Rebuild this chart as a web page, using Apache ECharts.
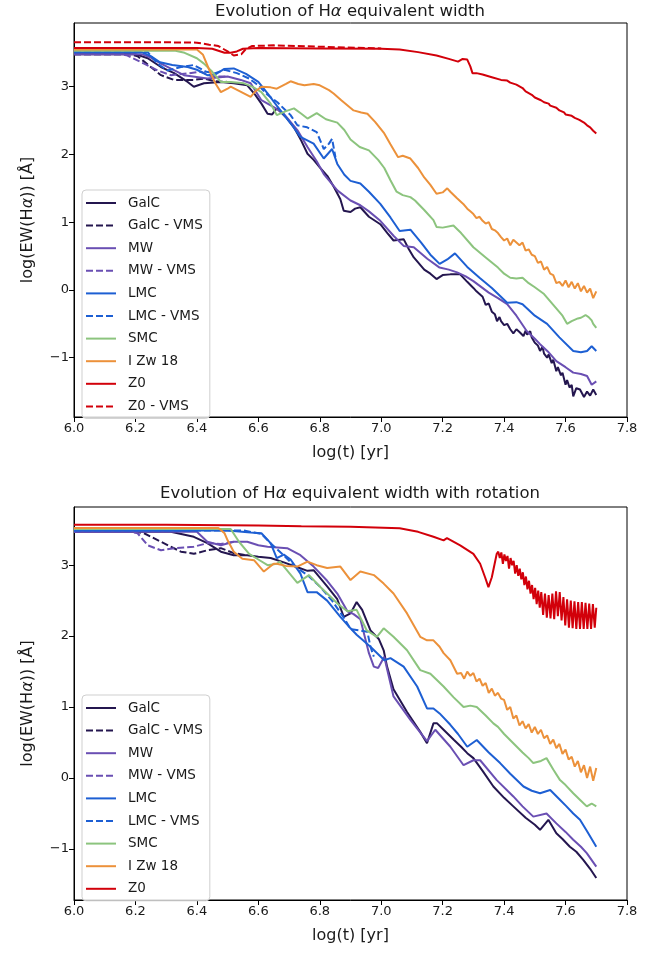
<!DOCTYPE html>
<html>
<head>
<meta charset="utf-8">
<script src="https://cdn.jsdelivr.net/npm/echarts@6/dist/echarts.min.js"></script>
<style>
html,body{margin:0;padding:0;background:#fff}
#chart{width:665px;height:954px}
</style>
</head>
<body>
<div id="chart"></div>
<script>
// Tick positions
const xTicks = [6.0, 6.2, 6.4, 6.6, 6.8, 7.0, 7.2, 7.4, 7.6, 7.8];
const yTicks = [-1, 0, 1, 2, 3];

// Legend entries
const namesTop = ['GalC', 'GalC - VMS', 'MW', 'MW - VMS', 'LMC', 'LMC - VMS', 'SMC', 'I Zw 18', 'Z0', 'Z0 - VMS'];
const namesBottom = ['GalC', 'GalC - VMS', 'MW', 'MW - VMS', 'LMC', 'LMC - VMS', 'SMC', 'I Zw 18', 'Z0'];

// ---- Non-rotating models: [log(t), log(EW)] ----
const galcTop = [[6.00,3.48],[6.20,3.48],[6.24,3.42],[6.283,3.29],[6.326,3.20],[6.37,3.07],[6.39,3.00],[6.423,3.05],[6.478,3.07],[6.52,3.05],[6.564,3.02],[6.59,2.88],[6.61,2.75],[6.63,2.60],[6.645,2.59],[6.66,2.68],[6.69,2.55],[6.716,2.40],[6.74,2.20],[6.76,2.01],[6.78,1.92],[6.80,1.81],[6.825,1.68],[6.846,1.52],[6.867,1.34],[6.878,1.17],[6.90,1.15],[6.915,1.20],[6.932,1.22],[6.96,1.08],[6.997,0.97],[7.02,0.84],[7.04,0.73],[7.073,0.75],[7.09,0.60],[7.106,0.48],[7.14,0.30],[7.16,0.24],[7.18,0.16],[7.20,0.22],[7.225,0.23],[7.257,0.23],[7.28,0.12],[7.30,0.03],[7.31,-0.02],[7.32,-0.06],[7.33,-0.10],[7.34,-0.22],[7.35,-0.20],[7.36,-0.32],[7.37,-0.36],[7.377,-0.46],[7.385,-0.40],[7.39,-0.46],[7.40,-0.52],[7.41,-0.50],[7.42,-0.58],[7.43,-0.64],[7.44,-0.58],[7.45,-0.62],[7.463,-0.68],[7.47,-0.60],[7.475,-0.66],[7.485,-0.61],[7.49,-0.70],[7.50,-0.78],[7.51,-0.82],[7.517,-0.90],[7.525,-0.84],[7.53,-0.94],[7.54,-1.00],[7.545,-0.95],[7.555,-1.08],[7.56,-1.03],[7.57,-1.20],[7.575,-1.14],[7.585,-1.26],[7.59,-1.22],[7.60,-1.40],[7.605,-1.33],[7.613,-1.44],[7.62,-1.40],[7.625,-1.57],[7.635,-1.45],[7.647,-1.47],[7.66,-1.58],[7.67,-1.50],[7.68,-1.56],[7.69,-1.47],[7.70,-1.55]];
const galcVmsTop = [[6.00,3.48],[6.18,3.48],[6.207,3.45],[6.25,3.29],[6.283,3.17],[6.326,3.10],[6.39,3.10],[6.423,3.12],[6.46,3.08],[6.50,3.07]];
const mwTop = [[6.00,3.48],[6.22,3.48],[6.25,3.43],[6.283,3.34],[6.358,3.17],[6.434,3.12],[6.50,3.15],[6.543,3.10],[6.575,3.05],[6.61,2.80],[6.65,2.70],[6.683,2.60],[6.727,2.36],[6.76,2.11],[6.79,1.90],[6.813,1.71],[6.857,1.47],[6.90,1.32],[6.932,1.25],[6.96,1.16],[6.997,1.02],[7.04,0.80],[7.073,0.65],[7.106,0.63],[7.15,0.46],[7.19,0.33],[7.22,0.30],[7.247,0.26],[7.275,0.20],[7.30,0.13],[7.35,-0.04],[7.38,-0.12],[7.41,-0.21],[7.44,-0.38],[7.474,-0.61],[7.50,-0.72],[7.517,-0.80],[7.545,-0.92],[7.57,-1.05],[7.60,-1.14],[7.625,-1.22],[7.65,-1.24],[7.67,-1.27],[7.685,-1.40],[7.70,-1.35]];
const mwVmsTop = [[6.00,3.48],[6.15,3.48],[6.174,3.46],[6.228,3.34],[6.272,3.24],[6.315,3.17],[6.37,3.195],[6.413,3.22],[6.45,3.15],[6.50,3.15]];
const lmcTop = [[6.00,3.51],[6.22,3.51],[6.25,3.45],[6.28,3.36],[6.32,3.32],[6.37,3.29],[6.40,3.25],[6.434,3.17],[6.46,3.18],[6.488,3.26],[6.52,3.27],[6.56,3.19],[6.60,3.07],[6.63,2.90],[6.66,2.72],[6.705,2.46],[6.737,2.26],[6.78,2.16],[6.813,1.94],[6.84,2.08],[6.857,1.86],[6.88,1.70],[6.90,1.61],[6.932,1.57],[6.96,1.45],[6.997,1.27],[7.03,1.07],[7.06,0.87],[7.095,0.89],[7.13,0.70],[7.16,0.52],[7.19,0.385],[7.215,0.45],[7.24,0.54],[7.28,0.34],[7.32,0.18],[7.36,0.03],[7.41,-0.19],[7.44,-0.18],[7.46,-0.21],[7.50,-0.38],[7.54,-0.50],[7.58,-0.70],[7.625,-0.90],[7.65,-0.92],[7.67,-0.90],[7.685,-0.83],[7.70,-0.90]];
const lmcVmsTop = [[6.00,3.51],[6.24,3.51],[6.272,3.34],[6.304,3.24],[6.348,3.29],[6.39,3.32],[6.43,3.22],[6.46,3.20],[6.49,3.25],[6.53,3.20],[6.57,3.12],[6.60,3.02],[6.63,2.88],[6.662,2.77],[6.705,2.58],[6.727,2.43],[6.759,2.40],[6.79,2.33],[6.813,2.08],[6.83,2.16],[6.84,2.23],[6.851,1.96]];
const smcTop = [[6.00,3.53],[6.33,3.53],[6.36,3.50],[6.40,3.42],[6.423,3.34],[6.45,3.22],[6.478,3.07],[6.51,3.07],[6.553,3.05],[6.58,3.00],[6.61,2.92],[6.64,2.75],[6.66,2.58],[6.69,2.64],[6.716,2.68],[6.74,2.60],[6.76,2.53],[6.79,2.61],[6.82,2.52],[6.857,2.47],[6.88,2.36],[6.90,2.22],[6.93,2.11],[6.96,2.06],[6.99,1.92],[7.01,1.80],[7.03,1.62],[7.05,1.45],[7.07,1.40],[7.095,1.37],[7.11,1.32],[7.14,1.18],[7.17,1.03],[7.18,0.93],[7.20,0.92],[7.235,0.95],[7.26,0.84],[7.30,0.63],[7.34,0.48],[7.38,0.33],[7.40,0.24],[7.42,0.18],[7.44,0.17],[7.46,0.18],[7.48,0.10],[7.50,0.04],[7.53,-0.06],[7.56,-0.22],[7.59,-0.38],[7.605,-0.50],[7.62,-0.46],[7.64,-0.42],[7.65,-0.41],[7.665,-0.37],[7.675,-0.40],[7.685,-0.45],[7.69,-0.50],[7.70,-0.56]];
const izwTop = [[6.00,3.55],[6.40,3.55],[6.42,3.47],[6.44,3.25],[6.46,3.05],[6.478,2.92],[6.50,2.97],[6.51,3.00],[6.545,2.92],[6.575,2.85],[6.59,2.93],[6.61,3.00],[6.64,2.99],[6.66,2.97],[6.69,3.04],[6.705,3.08],[6.73,3.04],[6.75,3.02],[6.78,3.04],[6.80,3.02],[6.83,2.95],[6.845,2.90],[6.87,2.80],[6.91,2.65],[6.935,2.62],[6.955,2.60],[6.98,2.48],[7.01,2.31],[7.03,2.15],[7.055,1.96],[7.07,1.98],[7.095,1.94],[7.12,1.80],[7.14,1.66],[7.16,1.55],[7.18,1.42],[7.20,1.44],[7.215,1.50],[7.225,1.45],[7.245,1.36],[7.267,1.27],[7.28,1.20],[7.29,1.16],[7.30,1.12],[7.31,1.06],[7.32,1.08],[7.33,1.02],[7.34,0.98],[7.35,1.00],[7.36,0.90],[7.37,0.88],[7.38,0.84],[7.39,0.78],[7.40,0.73],[7.41,0.76],[7.42,0.66],[7.43,0.74],[7.44,0.70],[7.45,0.66],[7.46,0.70],[7.47,0.58],[7.48,0.60],[7.49,0.52],[7.50,0.50],[7.51,0.40],[7.52,0.42],[7.53,0.30],[7.54,0.34],[7.55,0.24],[7.56,0.22],[7.57,0.10],[7.58,0.12],[7.59,0.06],[7.60,0.14],[7.61,0.04],[7.62,0.12],[7.63,0.02],[7.64,0.10],[7.65,-0.02],[7.66,0.06],[7.67,-0.04],[7.68,0.02],[7.69,-0.12],[7.70,-0.02]];
const z0Top = [[6.00,3.57],[6.20,3.57],[6.40,3.57],[6.45,3.56],[6.47,3.53],[6.49,3.50],[6.51,3.50],[6.53,3.52],[6.55,3.56],[6.60,3.57],[6.80,3.565],[7.00,3.56],[7.06,3.55],[7.12,3.51],[7.18,3.46],[7.22,3.41],[7.25,3.37],[7.265,3.41],[7.28,3.40],[7.29,3.30],[7.297,3.20],[7.31,3.20],[7.33,3.18],[7.36,3.14],[7.39,3.10],[7.41,3.09],[7.42,3.06],[7.44,3.03],[7.46,2.98],[7.47,2.93],[7.49,2.88],[7.50,2.84],[7.52,2.80],[7.53,2.77],[7.545,2.75],[7.55,2.72],[7.57,2.69],[7.58,2.65],[7.595,2.62],[7.60,2.59],[7.62,2.57],[7.63,2.54],[7.645,2.51],[7.66,2.47],[7.67,2.43],[7.68,2.40],[7.69,2.35],[7.70,2.31]];
const z0VmsTop = [[6.00,3.655],[6.30,3.655],[6.40,3.65],[6.44,3.62],[6.47,3.60],[6.50,3.52],[6.52,3.46],[6.545,3.48],[6.56,3.56],[6.58,3.60],[6.65,3.61],[6.80,3.59],[7.00,3.565]];

// ---- Rotating models ----
const galcBot = [[6.00,3.47],[6.315,3.47],[6.39,3.40],[6.434,3.31],[6.478,3.19],[6.52,3.14],[6.564,3.14],[6.60,3.12],[6.64,3.10],[6.683,3.04],[6.727,2.97],[6.76,2.92],[6.78,2.93],[6.824,2.70],[6.857,2.52],[6.878,2.27],[6.90,2.32],[6.92,2.48],[6.938,2.37],[6.965,2.08],[6.992,1.96],[7.008,1.80],[7.019,1.57],[7.04,1.25],[7.084,0.93],[7.127,0.65],[7.149,0.49],[7.17,0.77],[7.182,0.77],[7.203,0.68],[7.237,0.535],[7.26,0.44],[7.28,0.35],[7.30,0.28],[7.33,0.10],[7.365,-0.12],[7.40,-0.28],[7.43,-0.40],[7.47,-0.56],[7.50,-0.66],[7.517,-0.73],[7.544,-0.59],[7.57,-0.78],[7.59,-0.86],[7.614,-0.97],[7.635,-1.04],[7.657,-1.15],[7.68,-1.28],[7.70,-1.41]];
const galcVmsBot = [[6.00,3.47],[6.20,3.47],[6.228,3.45],[6.283,3.33],[6.348,3.19],[6.39,3.16],[6.434,3.21],[6.478,3.24],[6.52,3.17],[6.56,3.14]];
const mwBot = [[6.00,3.47],[6.40,3.47],[6.434,3.33],[6.478,3.28],[6.52,3.33],[6.564,3.33],[6.60,3.28],[6.63,3.26],[6.694,3.24],[6.737,3.14],[6.78,2.98],[6.824,2.78],[6.857,2.60],[6.89,2.35],[6.91,2.31],[6.932,2.24],[6.96,1.76],[6.976,1.57],[6.99,1.55],[7.01,1.71],[7.02,1.52],[7.04,1.15],[7.095,0.82],[7.149,0.52],[7.176,0.68],[7.225,0.44],[7.268,0.18],[7.30,0.25],[7.322,0.25],[7.376,-0.03],[7.43,-0.26],[7.46,-0.40],[7.495,-0.545],[7.538,-0.50],[7.57,-0.64],[7.60,-0.76],[7.625,-0.87],[7.65,-0.97],[7.669,-1.06],[7.70,-1.25]];
const mwVmsBot = [[6.00,3.47],[6.18,3.47],[6.207,3.45],[6.24,3.28],[6.283,3.21],[6.326,3.24],[6.39,3.26],[6.434,3.31],[6.478,3.30],[6.52,3.33]];
const lmcBot = [[6.00,3.49],[6.50,3.49],[6.575,3.46],[6.61,3.45],[6.64,3.31],[6.66,3.10],[6.683,3.15],[6.705,3.08],[6.737,2.88],[6.76,2.62],[6.79,2.62],[6.824,2.50],[6.867,2.27],[6.90,2.11],[6.92,2.02],[6.965,1.85],[7.01,1.66],[7.03,1.69],[7.073,1.57],[7.117,1.29],[7.149,0.98],[7.17,0.98],[7.19,0.91],[7.225,0.75],[7.25,0.62],[7.28,0.44],[7.311,0.535],[7.35,0.36],[7.387,0.21],[7.42,0.06],[7.463,-0.12],[7.49,-0.18],[7.517,-0.215],[7.55,-0.17],[7.58,-0.30],[7.603,-0.40],[7.625,-0.50],[7.647,-0.59],[7.67,-0.75],[7.70,-0.97]];
const lmcVmsBot = [[6.00,3.49],[6.55,3.49],[6.61,3.44],[6.64,3.31],[6.68,3.15],[6.72,2.98],[6.76,2.86],[6.80,2.70],[6.84,2.50],[6.88,2.25],[6.90,2.10],[6.93,2.08],[6.955,2.06],[6.965,1.85],[6.976,1.71]];
const smcBot = [[6.00,3.51],[6.51,3.51],[6.537,3.33],[6.57,3.16],[6.60,3.08],[6.63,3.00],[6.66,3.02],[6.67,3.05],[6.727,2.75],[6.765,2.86],[6.80,2.70],[6.824,2.60],[6.86,2.45],[6.89,2.35],[6.92,2.37],[6.953,2.08],[6.986,1.99],[7.008,2.11],[7.04,1.99],[7.084,1.80],[7.127,1.52],[7.16,1.47],[7.203,1.29],[7.235,1.14],[7.268,1.00],[7.29,1.02],[7.311,1.00],[7.34,0.88],[7.365,0.77],[7.38,0.72],[7.40,0.62],[7.43,0.49],[7.46,0.36],[7.48,0.28],[7.495,0.21],[7.52,0.24],[7.538,0.28],[7.56,0.12],[7.582,-0.03],[7.60,-0.10],[7.625,-0.215],[7.65,-0.32],[7.669,-0.40],[7.685,-0.36],[7.70,-0.40]];
const izwBot = [[6.00,3.525],[6.47,3.525],[6.49,3.45],[6.50,3.35],[6.52,3.19],[6.548,3.09],[6.586,3.07],[6.618,2.91],[6.65,3.02],[6.66,3.02],[6.69,2.99],[6.727,2.98],[6.76,3.05],[6.79,3.00],[6.824,2.96],[6.867,2.98],[6.90,2.79],[6.932,2.91],[6.976,2.86],[7.008,2.74],[7.04,2.60],[7.084,2.32],[7.127,1.99],[7.149,1.94],[7.17,1.94],[7.19,1.85],[7.203,1.76],[7.225,1.66],[7.247,1.47],[7.26,1.48],[7.27,1.40],[7.28,1.50],[7.29,1.44],[7.30,1.48],[7.31,1.36],[7.32,1.40],[7.33,1.30],[7.34,1.34],[7.35,1.20],[7.36,1.26],[7.37,1.16],[7.38,1.20],[7.39,1.12],[7.40,1.10],[7.41,0.96],[7.42,1.00],[7.43,0.84],[7.44,0.88],[7.45,0.74],[7.46,0.80],[7.47,0.70],[7.48,0.76],[7.49,0.64],[7.50,0.72],[7.51,0.62],[7.52,0.68],[7.53,0.56],[7.54,0.60],[7.55,0.48],[7.56,0.54],[7.57,0.42],[7.58,0.48],[7.59,0.34],[7.60,0.40],[7.61,0.26],[7.62,0.30],[7.63,0.16],[7.64,0.24],[7.65,0.08],[7.66,0.18],[7.67,0.00],[7.68,0.16],[7.69,-0.04],[7.70,0.14]];
const z0Bot = [[6.00,3.57],[6.30,3.57],[6.60,3.56],[6.74,3.55],[6.90,3.54],[7.06,3.52],[7.12,3.47],[7.17,3.40],[7.203,3.35],[7.214,3.38],[7.257,3.28],[7.30,3.16],[7.322,3.02],[7.338,2.83],[7.349,2.69],[7.36,2.83],[7.376,3.16],[7.381,3.19],[7.386,3.10],[7.391,3.18],[7.396,3.02],[7.401,3.15],[7.406,3.06],[7.411,3.13],[7.416,2.95],[7.421,3.10],[7.426,3.00],[7.431,3.06],[7.436,2.88],[7.441,3.00],[7.446,2.85],[7.451,2.95],[7.456,2.80],[7.461,2.90],[7.466,2.72],[7.471,2.84],[7.476,2.66],[7.481,2.78],[7.486,2.60],[7.491,2.72],[7.496,2.52],[7.501,2.68],[7.506,2.45],[7.511,2.64],[7.516,2.40],[7.521,2.62],[7.527,2.30],[7.533,2.60],[7.539,2.26],[7.545,2.58],[7.551,2.25],[7.557,2.60],[7.563,2.24],[7.569,2.63],[7.575,2.28],[7.581,2.62],[7.587,2.22],[7.593,2.55],[7.599,2.15],[7.605,2.52],[7.611,2.12],[7.617,2.50],[7.623,2.11],[7.629,2.49],[7.635,2.10],[7.641,2.48],[7.647,2.10],[7.653,2.48],[7.659,2.10],[7.665,2.47],[7.671,2.10],[7.677,2.46],[7.683,2.10],[7.689,2.45],[7.695,2.12],[7.70,2.40]];

// Colours per metallicity
const colors = {
  GalC: '#24164f',
  MW: '#6a4fb3',
  LMC: '#1d5fd3',
  SMC: '#8cc47e',
  IZw: '#ec913a',
  Z0: '#d2000a'
};

const FONT = 'DejaVu Sans';
const TXT = '#1a1a1a';

function lineSeries(name, data, color, dashed, idx) {
  return {
    type: 'line',
    name: name,
    data: data,
    xAxisIndex: idx,
    yAxisIndex: idx,
    symbol: 'none',
    showSymbol: false,
    silent: true,
    animation: false,
    clip: true,
    lineStyle: { color: color, width: 2, type: dashed ? [7, 3] : 'solid' },
    itemStyle: { color: color },
    emphasis: { disabled: true }
  };
}

function fmtY(v) { return v < 0 ? '\u2212' + Math.abs(v) : String(v); }

function xAxisCfg(idx) {
  return {
    type: 'value', gridIndex: idx, min: 6.0, max: 7.8,
    axisLine: { show: true, onZero: false, lineStyle: { color: '#000', width: 1 } },
    axisTick: { show: true, length: 5, customValues: xTicks, lineStyle: { color: '#000', width: 1 } },
    axisLabel: { customValues: xTicks, formatter: v => v.toFixed(1), fontSize: 13, color: TXT, fontFamily: FONT, margin: 5 },
    splitLine: { show: false },
    name: 'log(t) [yr]', nameLocation: 'middle', nameGap: 28,
    nameTextStyle: { fontSize: 16, color: TXT, fontFamily: FONT }
  };
}

function yAxisCfg(idx, lo, hi) {
  return {
    type: 'value', gridIndex: idx, min: lo, max: hi,
    axisLine: { show: true, onZero: false, lineStyle: { color: '#000', width: 1 } },
    axisTick: { show: true, length: 5, customValues: yTicks, lineStyle: { color: '#000', width: 1 } },
    axisLabel: { customValues: yTicks, formatter: fmtY, fontSize: 13, color: TXT, fontFamily: FONT, margin: 5 },
    splitLine: { show: false },
    name: 'log(EW(H{a|α})) [Å]', nameLocation: 'middle', nameGap: 38, nameRotate: 90,
    nameTextStyle: { fontSize: 16, color: TXT, fontFamily: FONT,
      rich: { a: { fontSize: 16, color: TXT, fontFamily: FONT, fontStyle: 'italic' } } }
  };
}

function legendCfg(names, top) {
  return {
    data: names, left: 82, top: top, orient: 'vertical',
    selectedMode: false,
    itemWidth: 30, itemHeight: 13, itemGap: 8.6,
    padding: [6, 7, 5, 3],
    borderColor: '#cfcfcf', borderWidth: 1, borderRadius: 4,
    backgroundColor: 'rgba(255,255,255,0.8)',
    itemStyle: { opacity: 0 },
    textStyle: { fontSize: 13.5, color: TXT, fontFamily: FONT, padding: [0, 0, 0, 7] }
  };
}

function titleCfg(text, top) {
  return {
    text: text, left: 350, top: top, textAlign: 'center', padding: 0,
    textStyle: { fontSize: 16.5, fontWeight: 'normal', color: TXT, fontFamily: FONT,
      rich: { a: { fontSize: 16.5, color: TXT, fontFamily: FONT, fontStyle: 'italic' } } }
  };
}

const series = [
  lineSeries('GalC', galcTop, colors.GalC, false, 0),
  lineSeries('GalC - VMS', galcVmsTop, colors.GalC, true, 0),
  lineSeries('MW', mwTop, colors.MW, false, 0),
  lineSeries('MW - VMS', mwVmsTop, colors.MW, true, 0),
  lineSeries('LMC', lmcTop, colors.LMC, false, 0),
  lineSeries('LMC - VMS', lmcVmsTop, colors.LMC, true, 0),
  lineSeries('SMC', smcTop, colors.SMC, false, 0),
  lineSeries('I Zw 18', izwTop, colors.IZw, false, 0),
  lineSeries('Z0', z0Top, colors.Z0, false, 0),
  lineSeries('Z0 - VMS', z0VmsTop, colors.Z0, true, 0),

  lineSeries('GalC', galcBot, colors.GalC, false, 1),
  lineSeries('GalC - VMS', galcVmsBot, colors.GalC, true, 1),
  lineSeries('MW', mwBot, colors.MW, false, 1),
  lineSeries('MW - VMS', mwVmsBot, colors.MW, true, 1),
  lineSeries('LMC', lmcBot, colors.LMC, false, 1),
  lineSeries('LMC - VMS', lmcVmsBot, colors.LMC, true, 1),
  lineSeries('SMC', smcBot, colors.SMC, false, 1),
  lineSeries('I Zw 18', izwBot, colors.IZw, false, 1),
  lineSeries('Z0', z0Bot, colors.Z0, false, 1)
];

const chart = echarts.init(document.getElementById('chart'), null, { renderer: 'canvas' });
chart.setOption({
  backgroundColor: '#fff',
  animation: false,
  title: [
    titleCfg('Evolution of H{a|α} equivalent width', 3),
    titleCfg('Evolution of H{a|α} equivalent width with rotation', 485)
  ],
  grid: [
    { left: 74, top: 23, width: 553, height: 394, show: true, borderColor: '#000', borderWidth: 1, backgroundColor: 'transparent' },
    { left: 74, top: 507, width: 553, height: 393, show: true, borderColor: '#000', borderWidth: 1, backgroundColor: 'transparent' }
  ],
  xAxis: [xAxisCfg(0), xAxisCfg(1)],
  yAxis: [yAxisCfg(0, -1.875, 3.94), yAxisCfg(1, -1.72, 3.82)],
  legend: [legendCfg(namesTop, 190), legendCfg(namesBottom, 695)],
  series: series
});
</script>
</body>
</html>
